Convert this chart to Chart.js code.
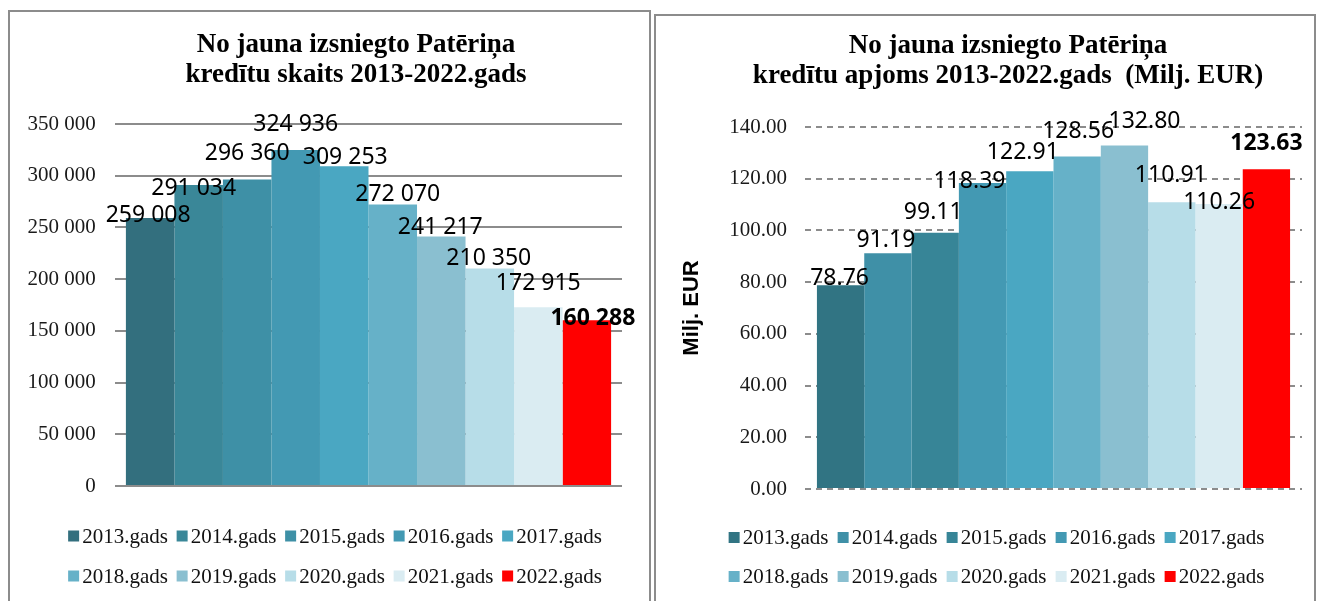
<!DOCTYPE html>
<html>
<head>
<meta charset="utf-8">
<script src="https://cdn.jsdelivr.net/npm/chart.js@4.4.1/dist/chart.umd.min.js"></script>
<style>
  body { margin: 0; background: #fff; }
  .panel { position: absolute; border: 2px solid #8c8c8c; background: #fff; }
  canvas { position: absolute; }
</style>
</head>
<body>
<div class="panel" style="left:8px;top:10px;width:639px;height:620px"></div>
<div class="panel" style="left:654px;top:14px;width:658px;height:620px"></div>
<canvas id="countChart" width="638" height="589" style="left:10px;top:12px"></canvas>
<canvas id="volumeChart" width="656" height="585" style="left:657px;top:16px"></canvas>
<script>
// data
const years = ['2013.gads', '2014.gads', '2015.gads', '2016.gads', '2017.gads',
               '2018.gads', '2019.gads', '2020.gads', '2021.gads', '2022.gads'];
const loanCount = [259008, 291034, 296360, 324936, 309253, 272070, 241217, 210350, 172915, 160288];
const loanVolume = [78.76, 91.19, 99.11, 118.39, 122.91, 128.56, 132.80, 110.91, 110.26, 123.63];

const countTitle = ['No jauna izsniegto Patēriņa', 'kredītu skaits 2013-2022.gads'];
const volumeTitle = ['No jauna izsniegto Patēriņa', 'kredītu apjoms 2013-2022.gads  (Milj. EUR)'];
const volumeAxisTitle = 'Milj. EUR';

// colours
const countColors = ['#336f7e', '#3a8798', '#3e90a6', '#4399b3', '#4aa7c2',
                     '#66b1c8', '#8abfd0', '#b7dde8', '#daecf2', '#ff0000'];
const volumeColors = ['#317483', '#3f90a7', '#378597', '#4399b3', '#4aa7c2',
                      '#66b1c8', '#8abfd0', '#b7dde8', '#daecf2', '#ff0000'];

const spaced = v => String(v).replace(/\B(?=(\d{3})+(?!\d))/g, ' ');

// value labels above each bar, nudged like in the original
function valueLabels(format, shift) {
    return {
        id: 'valueLabels',
        afterDatasetsDraw(chart) {
            const ctx = chart.ctx;
            const n = chart.data.datasets.length;
            ctx.save();
            ctx.textAlign = 'center';
            ctx.textBaseline = 'middle';
            ctx.fillStyle = '#000';
            chart.data.datasets.forEach((ds, i) => {
                const bar = chart.getDatasetMeta(i).data[0];
                ctx.font = (i === n - 1 ? 'bold ' : '') + '23px "Noto Sans"';
                ctx.fillText(format(ds.data[0]), bar.x + shift[i][0], bar.y + shift[i][1]);
            });
            ctx.restore();
        }
    };
}

// two-row legend with fixed columns
function gridLegend(cx, rowsY, pitch) {
    return {
        id: 'gridLegend',
        afterDraw(chart) {
            const ctx = chart.ctx;
            const items = chart.data.datasets;
            const perRow = Math.ceil(items.length / rowsY.length);
            ctx.save();
            ctx.font = '21px "Liberation Serif"';
            ctx.textBaseline = 'middle';
            ctx.textAlign = 'left';
            const textW = ctx.measureText(items[0].label).width;
            const blockW = (perRow - 1) * pitch + 14 + textW;
            const x0 = cx - blockW / 2;
            items.forEach((ds, i) => {
                const x = x0 + (i % perRow) * pitch;
                const y = rowsY[Math.floor(i / perRow)];
                ctx.fillStyle = ds.backgroundColor;
                ctx.fillRect(x, y - 5.5, 11, 11);
                ctx.fillStyle = '#111';
                ctx.fillText(ds.label, x + 14, y + 1);
            });
            ctx.restore();
        }
    };
}

const titleFont = { family: '"Liberation Serif"', size: 27, weight: 'bold', lineHeight: '30px' };
const tickFont = { family: '"Liberation Serif"', size: 21 };

new Chart(document.getElementById('countChart'), {
    type: 'bar',
    data: {
        labels: [''],
        datasets: years.map((y, i) => ({
            label: y,
            data: [loanCount[i]],
            backgroundColor: countColors[i],
            borderWidth: 0,
            categoryPercentage: 0.957,
            barPercentage: 1
        }))
    },
    options: {
        responsive: false,
        animation: false,
        layout: { padding: { left: 80, right: 26, top: 0, bottom: 115 } },
        plugins: {
            legend: { display: false },
            tooltip: { enabled: false },
            title: {
                display: true, text: countTitle, color: '#000',
                font: titleFont, padding: { top: 18, bottom: 34 }
            }
        },
        scales: {
            x: { display: false },
            y: {
                min: 0, max: 350000,
                afterFit: s => { s.width = 25; },
                // mirrored + negative padding so the labels sit left of the narrow axis box without clipping
                ticks: { stepSize: 50000, mirror: true, crossAlign: 'far', padding: -87.5,
                         color: '#1a1a1a', font: tickFont, callback: v => spaced(v) },
                grid: { color: '#8c8c8c', lineWidth: 2, drawTicks: false },
                border: { display: false }
            }
        }
    },
    plugins: [
        valueLabels(spaced, [[-2, -3], [-5, 3], [0, -26], [0, -25], [1, -9],
                             [5, -10], [-1, -9], [-1, -10], [0, -24], [6, -2]]),
        gridLegend(325, [524, 564], 108.5)
    ]
});

new Chart(document.getElementById('volumeChart'), {
    type: 'bar',
    data: {
        labels: [''],
        datasets: years.map((y, i) => ({
            label: y,
            data: [loanVolume[i]],
            backgroundColor: volumeColors[i],
            borderWidth: 0,
            categoryPercentage: 0.952,
            barPercentage: 1
        }))
    },
    options: {
        responsive: false,
        animation: false,
        layout: { padding: { left: 57, right: 11, top: 0, bottom: 112 } },
        plugins: {
            legend: { display: false },
            tooltip: { enabled: false },
            title: {
                display: true, text: volumeTitle, color: '#000',
                font: titleFont, padding: { top: 15.5, bottom: 35.5 }
            }
        },
        scales: {
            x: { display: false },
            y: {
                min: 0, max: 140,
                afterFit: s => { s.width = 91; },
                title: {
                    display: true, text: volumeAxisTitle, color: '#000',
                    font: { family: '"Liberation Sans"', size: 22, weight: 'bold' },
                    padding: { top: -35, bottom: 0 }
                },
                ticks: { stepSize: 20, padding: 18, color: '#1a1a1a', font: tickFont, callback: v => v.toFixed(2) },
                grid: { color: '#8c8c8c', lineWidth: 2, drawTicks: false },
                border: { display: false, dash: [6, 5] }
            }
        }
    },
    plugins: [
        valueLabels(v => v.toFixed(2), [[-1, -7], [-2, -13], [-2, -20], [-13, -1], [-7, -19],
                                        [1, -25], [20, -24], [-1, -27], [0, -1], [0, -26]]),
        gridLegend(339.5, [521.5, 560.5], 109)
    ]
});
</script>
</body>
</html>
